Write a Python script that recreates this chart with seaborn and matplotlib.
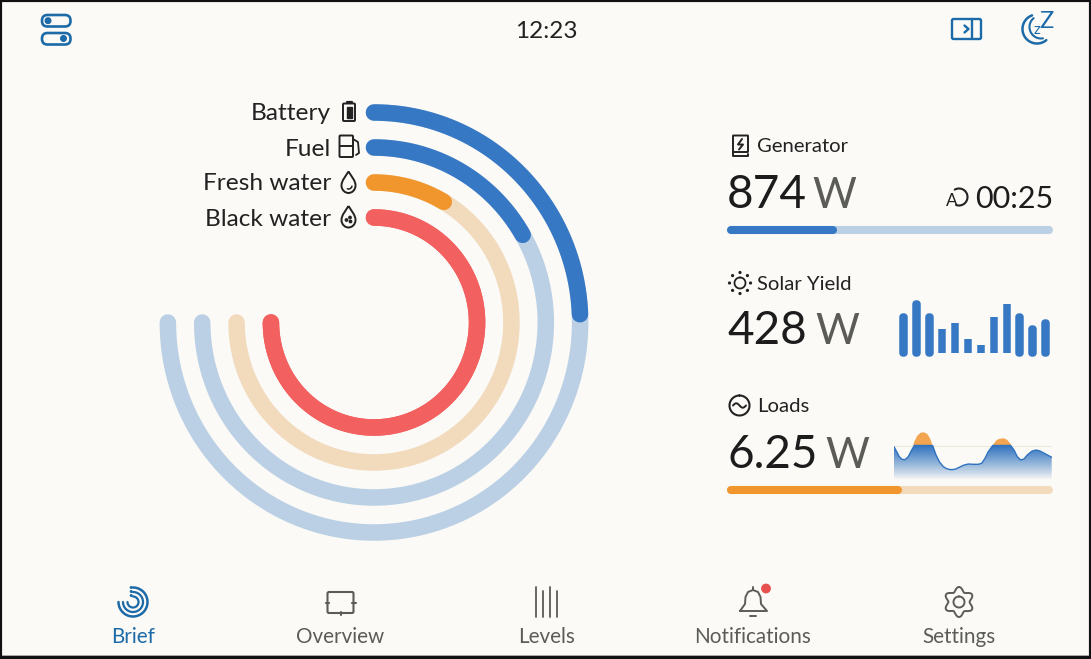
import numpy as np
import matplotlib
matplotlib.use("Agg")
import matplotlib.pyplot as plt
from matplotlib.patches import Circle, FancyBboxPatch, PathPatch, Rectangle
from matplotlib.path import Path
import seaborn as sns

W, H = 1091, 659
BG = "#fbfaf6"
BLUE = "#3678c4"
BLUE_PALE = "#bbd0e5"
ORANGE = "#f0962c"
ORANGE_PALE = "#f2dabd"
RED = "#f2605f"
ICON_BLUE = "#1c6aa8"
INK = "#222222"
GREY = "#5b5b58"

# gauge: fraction of the 270 degree sweep filled
tank_names = ["Battery", "Fuel", "Fresh water", "Black water"]
tank_levels = [0.325, 0.222, 0.113, 1.0]
tank_tracks = [6.0, 5.0, 4.0, 3.0]
tank_colors = [BLUE, BLUE, ORANGE, RED]
tank_pale = [BLUE_PALE, BLUE_PALE, ORANGE_PALE, RED]

generator_share = 0.32
loads_share = 0.525

solar_slots = list(range(12))
solar_values = [36, 49, 36, 24, 30, 14, 8, 36, 49, 36, 24, 30]

loads_t = [0, 2.7, 5.3, 8, 11, 14.3, 17.7, 20.3, 23.3, 26.7, 30, 33.3, 36, 38.7, 42,
           45.3, 49.3, 52.7, 56.7, 61, 65.3, 69.3, 74.3, 79.3, 84.3, 87.7, 91, 94.3,
           98.7, 102.7, 106, 110, 113.3, 116.7, 120, 123.3, 126.7, 130, 133.3, 137.7,
           142, 146, 151, 157.7]
loads_v = [33.3, 28.3, 23.3, 20.7, 20.3, 23.3, 30, 38.3, 44.3, 47.3, 47.7, 46, 41.7,
           34.3, 25, 18.3, 13.3, 11.3, 10.3, 10.7, 12.7, 14.7, 16, 15.7, 15.7, 16.7,
           21.7, 28.3, 35, 40, 41.3, 41.7, 40, 36, 30, 23.3, 20, 21, 25, 28.7, 30, 29,
           26.3, 22.7]
loads_limit = 34.5

nav_labels = ["Brief", "Overview", "Levels", "Notifications", "Settings"]
nav_x = [133, 340, 546, 753, 959]

sns.set_theme(style="white", rc={"figure.facecolor": BG, "axes.facecolor": "none"})
plt.rcParams["font.family"] = ["Lato", "DejaVu Sans"]

fig = plt.figure(figsize=(W / 100, H / 100), dpi=100)


def px_axes(x0, y0, x1, y1, **kw):
    ax = fig.add_axes([x0 / W, 1 - y1 / H, (x1 - x0) / W, (y1 - y0) / H], **kw)
    ax.axis("off")
    return ax


# rings, the reference is a touch taller than wide
cx, cy = 374, 322.5
gauge = px_axes(cx - 240.5, cy - 245, cx + 240.5, cy + 245, projection="polar")
gauge.set_aspect("auto")
gauge.set_theta_zero_location("N")
gauge.set_theta_direction(-1)
for level, track, color, pale in zip(tank_levels, tank_tracks, tank_colors, tank_pale):
    full = np.linspace(0, 1.5 * np.pi, 300)
    part = np.linspace(0, level * 1.5 * np.pi, 300)
    for theta, c in [(full, pale), (part, color)]:
        sns.lineplot(x=theta, y=np.full(300, track), color=c, lw=11.9, sort=False,
                     estimator=None, solid_capstyle="round", ax=gauge)
gauge.set_ylim(0, 7)
gauge.axis("off")

# progress bars
for y, share, c, pale in [(230, generator_share, BLUE, BLUE_PALE),
                          (490, loads_share, ORANGE, ORANGE_PALE)]:
    bar = px_axes(731, y - 4, 1049, y + 4)
    sns.lineplot(x=[0, 1], y=[0, 0], color=pale, lw=5.8, solid_capstyle="round", ax=bar)
    sns.lineplot(x=[0, share], y=[0, 0], color=c, lw=5.8, solid_capstyle="round", ax=bar)
    bar.set_xlim(0, 1)
    bar.set_ylim(-1, 1)
    bar.axis("off")
    for line_ in bar.lines:
        line_.set_clip_on(False)

# solar bars
solar = px_axes(897, 300, 1052, 353.3)
sns.barplot(x=solar_slots, y=solar_values, color=BLUE, saturation=1, width=0.04,
            linewidth=5.4, edgecolor=BLUE, ax=solar)
for p in solar.patches:
    p.set_joinstyle("round")
    p.set_clip_on(False)
solar.set_xlim(-0.5, 11.5)
solar.set_ylim(0, 53.3)
solar.axis("off")

# loads curve
t = np.array(loads_t, dtype=float)
v = np.array(loads_v, dtype=float)
area = px_axes(894, 430, 1052, 480)
lower = area.fill_between(t, 0, np.minimum(v, loads_limit), color="none")
fade = np.zeros((64, 2, 4))
fade[..., :3] = matplotlib.colors.to_rgb("#2f72bf")
fade[..., 3] = np.linspace(1, 0, 64)[:, None] ** 0.9
img = area.imshow(fade, extent=(0, 158, 0, loads_limit), aspect="auto", origin="upper",
                  zorder=1)
img.set_clip_path(lower.get_paths()[0], transform=area.transData)
area.fill_between(t, loads_limit, v, where=v >= loads_limit, interpolate=True,
                  color="#f2a44e", lw=0, zorder=2)
area.axhline(loads_limit, color="#eee9de", lw=0.8, zorder=0)
sns.lineplot(x=t, y=np.minimum(v, loads_limit), color="#2f72bf", lw=1, ax=area, zorder=3)
area.set_xlim(0, 158)
area.set_ylim(0, 50)
area.axis("off")

# everything else is laid out in screen pixels
ui = px_axes(0, 0, W, H)
ui.set_xlim(0, W)
ui.set_ylim(H, 0)
ui.set_zorder(5)


def line(xs, ys, c=INK, lw=1.4, **kw):
    ui.plot(xs, ys, color=c, lw=lw, solid_capstyle="round", solid_joinstyle="round", **kw)


def arc(x, y, r, a0, a1, c=INK, lw=1.4):
    a = np.radians(np.linspace(a0, a1, 80))
    line(x + r * np.sin(a), y - r * np.cos(a), c, lw)


def rbox(x0, y0, x1, y1, r, c=INK, lw=1.4, fill="none"):
    ui.add_patch(FancyBboxPatch((x0 + r, y0 + r), x1 - x0 - 2 * r, y1 - y0 - 2 * r,
                                boxstyle=f"round,pad={r},rounding_size={r}",
                                fc=fill, ec=c, lw=lw))


def drop(x, y, s=1.0):
    verts = [(0, -11), (-3, -6), (-7, -2), (-7, 3), (-7, 8), (-3, 10.5), (0, 10.5),
             (3, 10.5), (7, 8), (7, 3), (7, -2), (3, -6), (0, -11)]
    codes = [Path.MOVETO] + [Path.CURVE4] * 12
    verts = [(x + a * s, y + b * s) for a, b in verts]
    ui.add_patch(PathPatch(Path(verts, codes), fc="none", ec=INK, lw=1.4))


# frame
ui.add_patch(Rectangle((0, 0), W, H, fc="none", ec="#111111", lw=3, clip_on=False))
ui.add_patch(Rectangle((0, 656), W, 3, fc="#111111", ec="none"))
ui.add_patch(Rectangle((2, 654.5), W - 4, 1.5, fc="#a9a9a6", ec="none"))

# status row
ui.text(546.5, 32, "12:23", ha="center", va="center", fontsize=17.5, color=INK)
rbox(42, 15, 70.5, 26.5, 5.5, ICON_BLUE, 1.9)
rbox(42, 33, 70.5, 44.5, 5.5, ICON_BLUE, 1.9)
ui.add_patch(Circle((48, 20.7), 2.8, color=ICON_BLUE))
ui.add_patch(Circle((63.5, 38.5), 2.8, color=ICON_BLUE))
rbox(952, 19, 981, 39, 1.5, ICON_BLUE, 1.7)
line([972, 972], [19, 39], ICON_BLUE, 1.7)
line([964.5, 968.5, 964.5], [25.5, 29, 32.5], ICON_BLUE, 1.7)
arc(1037, 29, 14.5, 140, 340, ICON_BLUE, 1.8)
arc(1041, 27, 11.5, 170, 320, ICON_BLUE, 1.5)
ui.text(1037, 30, "z", ha="center", va="center", fontsize=11, color=ICON_BLUE)
ui.text(1046, 22, "Z", ha="center", va="center", fontsize=17, color=ICON_BLUE)

# tank labels
for name, y in zip(tank_names, [114, 149, 184, 219]):
    ui.text(331, y, name, ha="right", va="center", fontsize=17.6, color=INK)
rbox(343, 103.5, 355, 121, 1, INK, 1.4)
ui.add_patch(Rectangle((346.5, 106.5), 5, 11.5, color=INK))
line([346.5, 351.5], [101.5, 101.5], INK, 1.6)
rbox(339.5, 135.5, 353, 157, 1, INK, 1.4)
line([339.5, 353], [146, 146], INK, 1.4)
line([353, 358, 359, 356], [139, 142, 153, 155], INK, 1.3)
drop(348.5, 182.5)
arc(348.5, 185.5, 3.5, 100, 200, INK, 1.1)
drop(348.5, 217)
for dx, dy in [(-2, 3), (1.5, 0.5), (2, 4.5)]:
    ui.add_patch(Circle((348.5 + dx, 217 + dy), 1.2, color=INK))

# right hand panel
for label, y in [("Generator", 147), ("Solar Yield", 284), ("Loads", 407)]:
    ui.text(757, y, label, ha="left", va="center", fontsize=14.6, color=INK)
for num, base, wx in [("874", 208, 812.5), ("428", 344.5, 815.5), ("6.25", 468, 825.5)]:
    ui.text(727, base, num, ha="left", va="baseline", fontsize=33, color="#1c1c1c")
    ui.text(wx, base, "W", ha="left", va="baseline", fontsize=30.5, color=GREY)
ui.text(1053, 207.5, "00:25", ha="right", va="baseline", fontsize=22, color="#1c1c1c")
ui.text(952, 206.5, "A", ha="center", va="baseline", fontsize=12.5, color=INK)
arc(959, 197, 8.5, 330, 560, INK, 1.5)

# generator icon
rbox(733, 135.5, 748, 152, 0.5, INK, 1.4)
line([733, 733, 748, 748], [152, 156, 156, 154], INK, 1.4)
line([742, 738, 743, 739], [139, 144.5, 144.5, 149.5], INK, 1.4)
# sun icon
arc(740, 283, 5.5, 0, 360, INK, 1.3)
for a in np.radians(np.arange(0, 360, 45)):
    ui.add_patch(Circle((740 + 10.5 * np.sin(a), 283 - 10.5 * np.cos(a)), 0.9, color=INK))
# loads icon
arc(739.5, 405.5, 10, 0, 360, INK, 1.5)
sx = np.linspace(733, 746, 30)
line(sx, 405.5 - 2.2 * np.sin((sx - 733) / 13 * 2 * np.pi), INK, 1.4)

# nav bar
for i, (label, x) in enumerate(zip(nav_labels, nav_x)):
    ui.text(x, 637, label, ha="center", va="center", fontsize=14.9,
            color=ICON_BLUE if i == 0 else GREY)

# brief icon
for r, lw in [(14.5, 1.8), (10, 1.6), (5.5, 1.6)]:
    arc(133, 602, r, 0, 270, ICON_BLUE, lw)
for dy in [-14.5, -10.5, -6.5]:
    ui.add_patch(Circle((131.2, 602 + dy), 0.8, color=ICON_BLUE))
# overview icon
rbox(327.5, 592, 353.5, 613, 1.5, GREY, 1.5)
line([325.5, 329], [602.5, 602.5], GREY, 1.5)
line([352, 355.5], [602.5, 602.5], GREY, 1.5)
line([340.5, 340.5], [612, 615], GREY, 1.5)
# levels icon
for x, y0 in zip([536, 543, 550, 557], [587, 591, 587, 591]):
    line([x, x], [y0, 617], GREY, 1.3)
# bell icon
bell_x = [740, 745, 745.5, 748, 753, 758, 760.5, 761, 767, 740]
bell_y = [611, 604, 597, 592, 590, 592, 597, 604, 611, 611]
line(bell_x, bell_y, GREY, 1.4)
line([750, 756], [616, 616], GREY, 1.4)
line([753, 753], [587, 590], GREY, 1.4)
ui.add_patch(Circle((766, 588.5), 4.2, color="#e8504f", zorder=6))
# gear icon
ga = np.linspace(0, 2 * np.pi, 240)
gr = 12.8 + 2.2 * np.cos(6 * ga)
line(959 + gr * np.sin(ga), 602 - gr * np.cos(ga), GREY, 1.4)
arc(959, 602, 5.5, 0, 360, GREY, 1.4)

fig.savefig("out.png", dpi=100, facecolor=BG)
